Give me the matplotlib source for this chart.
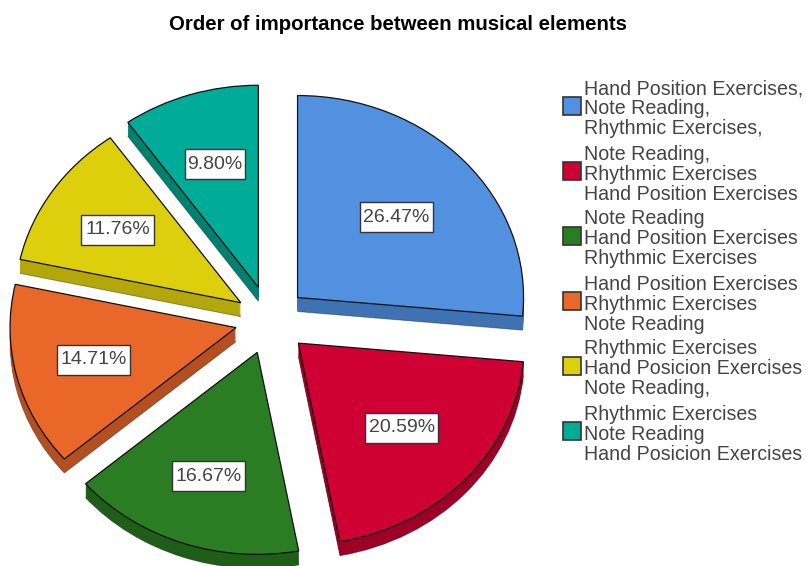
import matplotlib
matplotlib.use('Agg')
import matplotlib.pyplot as plt
from matplotlib.patches import Rectangle
import numpy as np

plt.rcParams['font.family'] = ['Liberation Sans', 'DejaVu Sans']

W, H = 806, 566

title = 'Order of importance between musical elements'
values = [26.47, 20.59, 16.67, 14.71, 11.76, 9.80]
pct_labels = ['26.47%', '20.59%', '16.67%', '14.71%', '11.76%', '9.80%']
colors = ['#5191e0', '#cf0033', '#2a7d22', '#ea672a', '#decf0d', '#00ac98']
side_colors = ['#3f72b3', '#9c0026', '#1f5e19', '#b34f20', '#b3a70b', '#00806f']
explode = [0.165, 0.17, 0.17, 0.155, 0.155, 0.17]
label_radius = [0.59, 0.62, 0.65, 0.65, 0.655, 0.64]
label_box_px = [73, 73, 73, 73, 73, 60]
legend_labels = [
    ['Hand Position Exercises,', 'Note Reading,', 'Rhythmic Exercises,'],
    ['Note Reading,', 'Rhythmic Exercises', 'Hand Position Exercises'],
    ['Note Reading', 'Hand Position Exercises', 'Rhythmic Exercises'],
    ['Hand Position Exercises', 'Rhythmic Exercises', 'Note Reading'],
    ['Rhythmic Exercises', 'Hand Posicion Exercises', 'Note Reading,'],
    ['Rhythmic Exercises', 'Note Reading', 'Hand Posicion Exercises'],
]

fig = plt.figure(figsize=(W / 100, H / 100), dpi=100, facecolor='white')

# pixel overlay for the title and legend
bg = fig.add_axes([0, 0, 1, 1])
bg.set_xlim(0, W)
bg.set_ylim(H, 0)
bg.axis('off')

# pie axes: radius 1 = 226 px wide, 202 px tall
cx, cy, rx, ry = 270, 320, 226, 202
ax = fig.add_axes([(cx - 2 * rx) / W, 1 - (cy + 2 * ry) / H, 4 * rx / W, 4 * ry / H])

depth = 14 / ry
for k in range(14, 0, -1):
    edge = (0, 0, 0, 0.35) if k == 14 else 'none'
    ax.pie(values, colors=side_colors, explode=explode, startangle=90, counterclock=False,
           radius=1, center=(0, -k * depth / 14), frame=False,
           wedgeprops=dict(edgecolor=edge, linewidth=0.7))

wedges, texts = ax.pie(values, colors=colors, explode=explode, startangle=90, counterclock=False,
                       radius=1, center=(0, 0), frame=False,
                       wedgeprops=dict(edgecolor='#111111', linewidth=0.9))

ax.set_aspect('auto')
ax.set_xlim(-2, 2)
ax.set_ylim(-2, 2)
ax.axis('off')

box_h = 30 / ry
for w, lab, r, bw in zip(wedges, pct_labels, label_radius, label_box_px):
    mid = np.deg2rad((w.theta1 + w.theta2) / 2)
    x = w.center[0] + r * np.cos(mid)
    y = w.center[1] + r * np.sin(mid)
    box_w = bw / rx
    ax.add_patch(Rectangle((x - box_w / 2, y - box_h / 2), box_w, box_h, fc='white',
                           ec='#333333', lw=1.0, zorder=5))
    ax.text(x, y, lab, ha='center', va='center', fontsize=14, color='#444444', zorder=6)

bg.text(398, 25, title, ha='center', va='center', fontsize=14.7, fontweight='bold', color='black')

for i, lines in enumerate(legend_labels):
    top = 88 + i * 65
    for j, line in enumerate(lines):
        bg.text(584, top + 1 + j * 20, line, ha='left', va='center', fontsize=14.1, color='#444444')
    bg.add_patch(Rectangle((563, top + 9), 18, 18, fc=colors[i], ec='#333333', lw=1.2))

plt.savefig('out.png', dpi=100, facecolor='white')
plt.close()
